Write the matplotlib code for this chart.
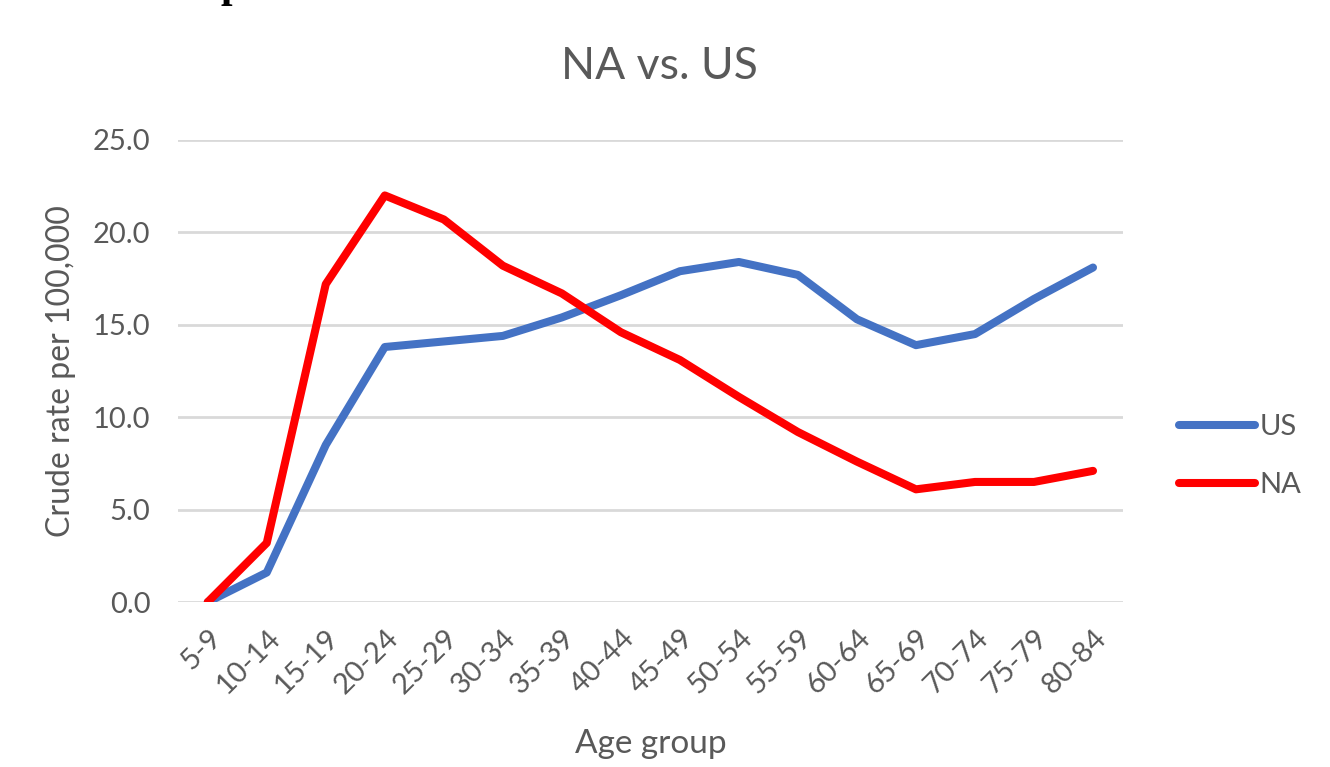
import matplotlib
matplotlib.use("Agg")
import matplotlib.pyplot as plt

# age groups and crude rates (per 100,000)
age_groups = ["5-9", "10-14", "15-19", "20-24", "25-29", "30-34", "35-39", "40-44",
              "45-49", "50-54", "55-59", "60-64", "65-69", "70-74", "75-79", "80-84"]
us = [0.0, 1.6, 8.5, 13.8, 14.1, 14.4, 15.4, 16.6, 17.9, 18.4, 17.7, 15.3, 13.9, 14.5, 16.4, 18.1]
na = [0.0, 3.2, 17.2, 22.0, 20.7, 18.2, 16.7, 14.6, 13.1, 11.1, 9.2, 7.6, 6.1, 6.5, 6.5, 7.1]
y_ticks = [0, 5, 10, 15, 20, 25]

grey = "#595959"
plt.rcParams["font.family"] = ["Lato", "DejaVu Sans"]

fig = plt.figure(figsize=(13.3, 7.67), dpi=100)
ax = fig.add_axes([0.134, 0.215, 0.71, 0.6025])

x = list(range(len(age_groups)))
ax.plot(x, us, color="#4472C4", lw=5.8, label="US", solid_capstyle="round", solid_joinstyle="round")
ax.plot(x, na, color="#FF0000", lw=5.8, label="NA", solid_capstyle="round", solid_joinstyle="round")

ax.set_xlim(-0.5, len(age_groups) - 0.5)
ax.set_ylim(0, 25)
ax.set_yticks(y_ticks)
ax.set_yticklabels([f"{v:.1f}" for v in y_ticks])
ax.set_xticks(x)
ax.set_xticklabels(age_groups, rotation=45, ha="right", rotation_mode="anchor")
ax.tick_params(length=0, labelsize=21, colors=grey)
ax.tick_params(axis="y", pad=20)
ax.tick_params(axis="x", pad=16)
for s in ax.spines.values():
    s.set_visible(False)
ax.grid(axis="y", color="#D9D9D9", lw=2)
ax.set_axisbelow(True)

ax.set_title("NA vs. US", fontsize=32, color=grey, pad=44, x=0.51)
ax.set_xlabel("Age group", fontsize=24, color=grey, labelpad=22)
ax.set_ylabel("Crude rate per 100,000", fontsize=23, color=grey, labelpad=12)

fig.legend(loc="center left", bbox_to_anchor=(0.867, 0.405), frameon=False,
           fontsize=21, labelcolor=grey, handlelength=2.6, handletextpad=0.15,
           labelspacing=1.1)

# cropped descender of a heading above the chart
fig.text(0.166, 1.0 + 3 / 767, "p", fontsize=30, fontweight="bold",
         family="Liberation Serif", va="baseline", color="black")

fig.savefig("out.png", dpi=100)
